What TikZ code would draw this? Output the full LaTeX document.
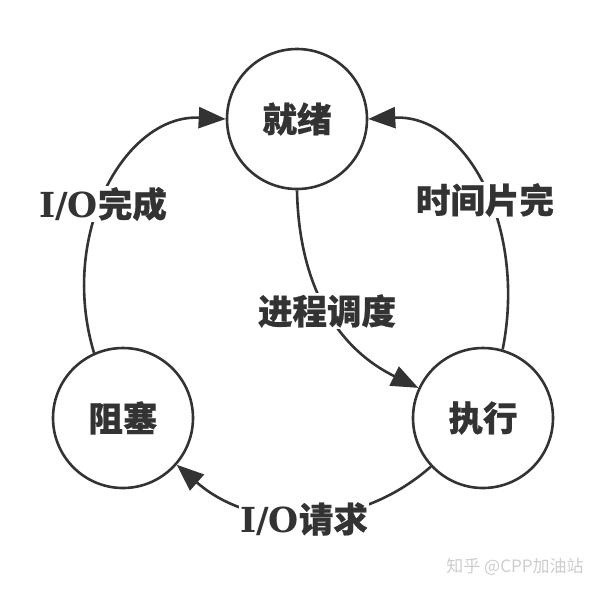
\documentclass[tikz,border=0pt]{standalone}
\usepackage{fontspec}
\setmainfont{DejaVu Serif}
\newfontfamily\cjk{Noto Sans CJK SC}[BoldFeatures={FakeBold=0.6}]
\newfontfamily\cjkwm{Noto Sans CJK SC}
\newfontfamily\latserif{DejaVu Serif}
\usetikzlibrary{arrows.meta}
\definecolor{ink}{HTML}{333333}
\definecolor{wmgray}{HTML}{CDCDCD}
\newcommand\iotext{{\latserif\bfseries I/O}}
\begin{document}
\begin{tikzpicture}[x=1pt,y=-1pt,
  st/.style={circle,draw=ink,line width=2.6pt,minimum size=140pt,inner sep=0pt,
    font=\cjk\bfseries\fontsize{34.5}{38}\selectfont,text=ink},
  lab/.style={fill=white,inner sep=1.5pt,font=\cjk\bfseries\fontsize{34.5}{38}\selectfont,text=ink},
  conn/.style={draw=ink,line width=2.6pt,-{Triangle[length=27pt,width=21pt]}},
  wm/.style={font=\cjkwm\fontsize{17}{20}\selectfont,text=wmgray}
]
\useasboundingbox (0,0) rectangle (603,590);
\node[st] (jx) at (297,119) {就绪};
\node[st] (zs) at (123,418) {阻塞};
\node[st] (zx) at (483,418) {执行};
\draw[conn] (zs.114) .. controls +(-36,-120) and +(-100,-5) .. (jx.180);
\draw[conn] (zx.74) .. controls +(24,-120) and +(100,-5) .. (jx.0);
\draw[conn] (jx.270) .. controls +(2,100) and +(-78,-38) .. (zx.155);
\draw[conn] (zx.223) .. controls +(-75,66) and +(75,66) .. (zs.319);
\node[lab] (l1) at (103,204) {\iotext 完成};
\node[lab] (l2) at (485,200) {时间片完};
\node[lab] (l3) at (327,311) {进程调度};
\node[lab] (l4) at (304,519) {\iotext 请求};
\node[wm] (wmk) at (515,567) {知乎 @CPP加油站};
\end{tikzpicture}
\end{document}
